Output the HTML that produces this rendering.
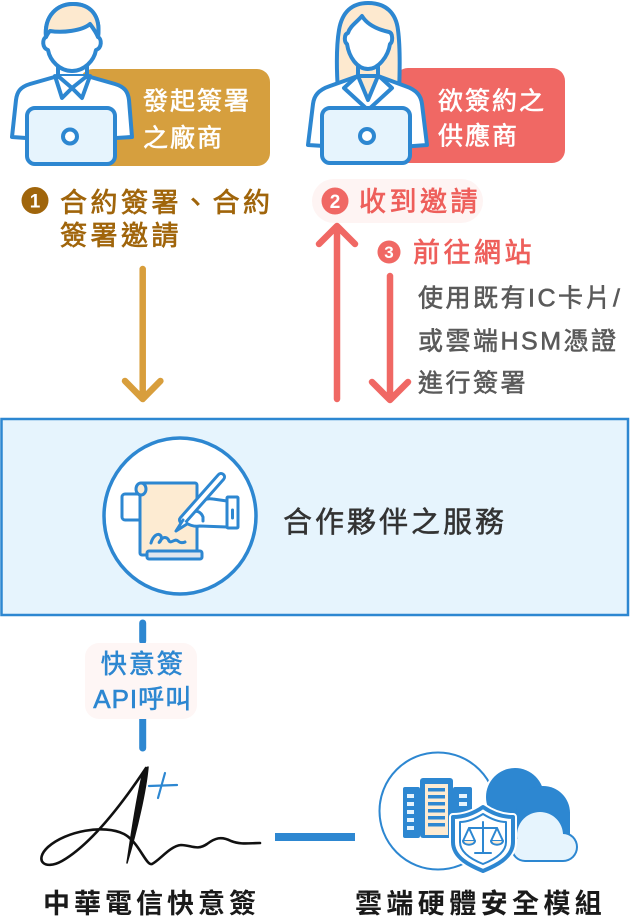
<!DOCTYPE html>
<html><head><meta charset="utf-8">
<style>
html,body{margin:0;padding:0;background:#fff;}
svg{display:block;}
text{font-family:"Liberation Sans","Noto Sans CJK TC",sans-serif;}
</style></head>
<body>
<svg width="630" height="920" viewBox="0 0 630 920" xmlns="http://www.w3.org/2000/svg">
<!-- ===== Top-left label box + male ===== -->
<rect x="80" y="69" width="190" height="97" rx="13" fill="#d69f3e"/>
<g fill="#fff" stroke="#fff" stroke-width="0.6" font-size="25" letter-spacing="2">
<text x="143" y="109.5">發起簽署</text>
<text x="143" y="146.5">之廠商</text>
</g>

<g stroke="#2d87d1" stroke-width="4" stroke-linejoin="round" stroke-linecap="round">
  <path d="M58,76 L30,84 C20,87 17,92 16,100 L12,137 L40,139 L100,139 L132,137 L129,100 C128,92 125,87 115,84 L87,76 Z" fill="#fff"/>
  <path d="M55,76 L62,98 L72,88 L82,98 L90,76" fill="#fff"/>
  <path d="M58,76 L72,88 L87,76" fill="none"/>
  <path d="M58,64 L58,77 M87,64 L87,77" fill="none"/>
  <path d="M48,50 C42,48 42,39 46,37 C44,15 58,4 73,4 C90,4 101,15 98,37 C102,39 102,48 96,50 C94,61 84,71 72,71 C60,71 50,61 48,50 Z" fill="#fff"/>
  <path d="M46,37 C44,15 58,4 73,4 C90,4 101,15 98,37 C96,32 93,28 90,24 C82,31 62,33 50,31 C48,33 47,35 46,37 Z" fill="#fde9cf"/>
  <rect x="27" y="108" width="88" height="56" rx="8" fill="#e6f4fd"/>
  <circle cx="70" cy="136.5" r="7" fill="#fff"/>
</g>

<!-- ===== Top-right label box + female ===== -->
<rect x="395" y="68" width="170" height="95" rx="13" fill="#f06864"/>
<g fill="#fff" stroke="#fff" stroke-width="0.6" font-size="25" letter-spacing="2">
<text x="438" y="109.5">欲簽約之</text>
<text x="438" y="144.5">供應商</text>
</g>

<g stroke="#2d87d1" stroke-width="4" stroke-linejoin="round" stroke-linecap="round">
  <path d="M338,92 C336,62 337,42 339,30 C342,12 352,3 368,3 C386,3 396,13 398,30 C400,45 400,68 399,92 Z" fill="#fde9cf"/>
  <path d="M358,76 L330,86 C318,90 314,96 313,104 L308,145 L340,147 L400,147 L427,145 L422,104 C421,96 417,90 405,86 L378,76 Z" fill="#fff"/>
  <path d="M358,76 L368,100 L378,76 Z" fill="#fde9cf"/>
  <path d="M356,77 L344,88 L368,110 L392,88 L380,77" fill="none"/>
  <path d="M358,64 L358,77 M378,64 L378,77" fill="none"/>
  <path d="M347,44 C344,42 344,34 348,33 C350,26 357,22 362,16 C368,26 380,30 389,32 C393,33 393,42 390,44 C388,57 378,69 368,69 C357,69 349,57 347,44 Z" fill="#fff"/>
  <rect x="322" y="108" width="88" height="55" rx="8" fill="#e6f4fd"/>
  <circle cx="367" cy="136" r="7" fill="#fff"/>
</g>

<!-- ===== Step 1 ===== -->
<circle cx="35" cy="200.5" r="13.5" fill="#a0650b"/>
<text x="35" y="207.5" font-size="19" font-weight="700" fill="#fff" text-anchor="middle">1</text>
<g fill="#a0650b" stroke="#a0650b" stroke-width="0.7" font-size="27" letter-spacing="3.5">
<text x="60" y="212">合約簽署、合約</text>
<text x="60" y="245">簽署邀請</text>
</g>

<!-- ===== Step 2 ===== -->
<rect x="312" y="179" width="171" height="44" rx="22" fill="#fef4f3"/>
<circle cx="335" cy="201" r="13.5" fill="#f06864"/>
<text x="335" y="208" font-size="19" font-weight="700" fill="#fff" text-anchor="middle">2</text>
<text x="359" y="211" font-size="27" fill="#ee5f5b" stroke="#ee5f5b" stroke-width="0.7" letter-spacing="3.5">收到邀請</text>

<!-- ===== Step 3 ===== -->
<circle cx="389" cy="252" r="11.5" fill="#f06864"/>
<text x="389" y="258" font-size="17" font-weight="700" fill="#fff" text-anchor="middle">3</text>
<text x="413" y="262" font-size="27" fill="#ee5f5b" stroke="#ee5f5b" stroke-width="0.7" letter-spacing="3.5">前往網站</text>
<g fill="#5a5a5a" stroke="#5a5a5a" stroke-width="0.6" font-size="25" letter-spacing="2.5">
<text x="418" y="306.5">使用既有IC卡片/</text>
<text x="418" y="349.5">或雲端HSM憑證</text>
<text x="418" y="391.5">進行簽署</text>
</g>

<!-- ===== Arrows ===== -->
<g fill="none" stroke-width="6.5" stroke-linecap="round" stroke-linejoin="round">
  <path d="M142.7,269 L142.7,398 M125,381 L142.7,399 L160.4,381" stroke="#d89e3c"/>
  <path d="M337,399 L337,227 M319,244 L337,226 L355,244" stroke="#f06864"/>
  <path d="M390,276 L390,398 M372,382 L390,400 L408,382" stroke="#f06864"/>
</g>

<!-- ===== Central box ===== -->
<rect x="1.5" y="419" width="626.5" height="196" fill="#e6f4fd" stroke="#2d87d1" stroke-width="2.5"/>
<ellipse cx="180" cy="516" rx="76" ry="78" fill="#fff" stroke="#2d87d1" stroke-width="3.5"/>
<g stroke="#2d87d1" stroke-width="3" stroke-linejoin="round" stroke-linecap="round">
  <rect x="122" y="494" width="20" height="26" rx="3" fill="#fff"/>
  <rect x="140" y="483" width="57" height="72" rx="2" fill="#fdebd2"/>
  <ellipse cx="141" cy="489" rx="5" ry="6" fill="#fdebd2"/>
  <rect x="147" y="551" width="55" height="8" rx="2" fill="#dfe6ee"/>
  <path d="M151,543 C153,536 158,532 161,536 C163,540 157,545 160,541 C164,535 168,538 169,541 C171,544 175,538 178,541 C180,543 183,543 185,542" fill="none"/>
  <path d="M227,501 L213,499 C207,498 201,500 196,505 L186,517 L184,521 C188,525 194,527 200,526 L227,527 Z" fill="#fff"/>
  <path d="M192,512 C197,510 201,512 203,517 L203,521" fill="none"/>
  <path d="M221,477 L183,520" stroke-width="10" fill="none"/>
  <path d="M221,477 L183,520" stroke="#fff" stroke-width="4" fill="none"/>
  <path d="M183,520 L176,531 L187,524" fill="#fff"/>
  <rect x="227" y="497" width="11" height="31" rx="1" fill="#fff"/>
  <path d="M232.5,510 L232.5,518" fill="none"/>
</g>
<text x="283" y="532" font-size="29" fill="#333" stroke="#333" stroke-width="0.5" letter-spacing="3">合作夥伴之服務</text>

<!-- ===== API connector ===== -->
<g stroke="#2d87d1" stroke-width="7" stroke-linecap="round">
  <path d="M142.7,623 L142.7,641"/>
  <path d="M142.7,718 L142.7,748"/>
</g>
<rect x="85" y="643" width="112" height="76" rx="14" fill="#fef6f5"/>
<g fill="#2d87d1" stroke="#2d87d1" stroke-width="0.6" font-size="26" text-anchor="middle">
<text x="142.7" y="673" letter-spacing="2">快意簽</text>
<text x="142.7" y="708" letter-spacing="1">API呼叫</text>
</g>

<!-- ===== Signature logo ===== -->
<g fill="none" stroke="#111" stroke-linecap="round" stroke-linejoin="round">
  <path d="M146,768 C128,795 95,842 62,861 C44,871 34,860 48,847 C66,831 104,824 124,834 C139,842 146,866 152,864 C160,860 170,846 181,845 C191,845 197,851 207,844 C215,838 221,836 231,841 C241,845 250,843 260,843" stroke-width="2.6"/>
</g>
<path d="M148,767 C146,790 137,830 127,863 C131,838 135,805 143,772 Z" fill="#111" stroke="#111" stroke-width="1.5" stroke-linejoin="round"/>
<g stroke="#2d87d1" stroke-width="2.2" stroke-linecap="round" fill="none">
  <path d="M149,786 L177,785"/>
  <path d="M165,773 L158,798"/>
</g>

<!-- ===== Horizontal connector ===== -->
<rect x="275" y="833" width="80" height="8" fill="#2d87d1"/>

<!-- ===== HSM icon ===== -->
<circle cx="438" cy="811" r="58.5" fill="#fff" stroke="#2d87d1" stroke-width="2"/>
<!-- dark cloud -->
<g fill="#fff">
  <circle cx="515" cy="797" r="31"/>
  <circle cx="543" cy="813" r="29"/>
  <rect x="500" y="812" width="72" height="26"/>
</g>
<g fill="#2d87d1">
  <circle cx="515" cy="797" r="29"/>
  <circle cx="543" cy="813" r="27"/>
  <rect x="502" y="812" width="68" height="24"/>
</g>
<!-- light cloud -->
<g fill="#2d87d1">
  <circle cx="540" cy="835" r="25"/>
  <circle cx="563" cy="847" r="15"/>
  <circle cx="525" cy="848" r="14"/>
  <rect x="525" y="840" width="38" height="22"/>
</g>
<g fill="#e6f4fd">
  <circle cx="540" cy="835" r="23"/>
  <circle cx="563" cy="847" r="13"/>
  <circle cx="525" cy="848" r="12"/>
  <rect x="525" y="840" width="38" height="20"/>
</g>
<!-- servers -->
<rect x="403" y="787" width="17" height="51" rx="2" fill="#2d87d1"/>
<g fill="#e6f4fd">
  <rect x="407" y="794" width="7" height="4"/><rect x="407" y="802" width="7" height="4"/>
  <rect x="407" y="810" width="7" height="4"/><rect x="407" y="818" width="7" height="4"/>
  <rect x="407" y="826" width="7" height="4"/>
</g>
<rect x="453" y="787" width="19" height="51" rx="2" fill="#2d87d1"/>
<g fill="#e6f4fd">
  <rect x="459" y="794" width="8" height="4"/><rect x="459" y="802" width="8" height="4"/>
</g>
<rect x="420" y="778" width="33" height="60" rx="3" fill="#2d87d1"/>
<rect x="425" y="784" width="23" height="51" fill="#fdebd2"/>
<g fill="#2d87d1">
  <rect x="428" y="788" width="17" height="3.5"/><rect x="428" y="795" width="17" height="3.5"/>
  <rect x="428" y="802" width="17" height="3.5"/><rect x="428" y="809" width="17" height="3.5"/>
  <rect x="428" y="816" width="17" height="3.5"/><rect x="428" y="823" width="17" height="3.5"/>
</g>
<!-- shield -->
<path d="M483,807 C473,814 463,817 453,817 L453,842 C453,858 471,866 483,871 C495,866 513,858 513,842 L513,817 C503,817 493,814 483,807 Z" fill="#fff" stroke="#fff" stroke-width="8" stroke-linejoin="round"/>
<path d="M483,807 C473,814 463,817 453,817 L453,842 C453,858 471,866 483,871 C495,866 513,858 513,842 L513,817 C503,817 493,814 483,807 Z" fill="#fff" stroke="#2d87d1" stroke-width="4" stroke-linejoin="round"/>
<path d="M483,814 C475,819 468,822 460,822 L460,842 C460,853 473,860 483,864 C493,860 506,853 506,842 L506,822 C498,822 491,819 483,814 Z" fill="#fff" stroke="#2d87d1" stroke-width="2" stroke-linejoin="round"/>
<g stroke="#2d87d1" stroke-width="2" fill="none" stroke-linecap="round" stroke-linejoin="round">
  <path d="M483,822 L483,852 M469,828 L497,828 M475,853 L491,853"/>
  <path d="M469,828 L463,841 L475,841 Z M497,828 L491,841 L503,841 Z"/>
  <path d="M463,841 C464,846 474,846 475,841 M491,841 C492,846 502,846 503,841" fill="#fdebd2"/>
</g>

<!-- ===== Bottom labels ===== -->
<text x="43" y="913" font-size="27" font-weight="700" fill="#1a1a1a" letter-spacing="4">中華電信快意簽</text>
<text x="355" y="913" font-size="27" font-weight="700" fill="#1a1a1a" letter-spacing="4.4">雲端硬體安全模組</text>
</svg>
</body></html>
